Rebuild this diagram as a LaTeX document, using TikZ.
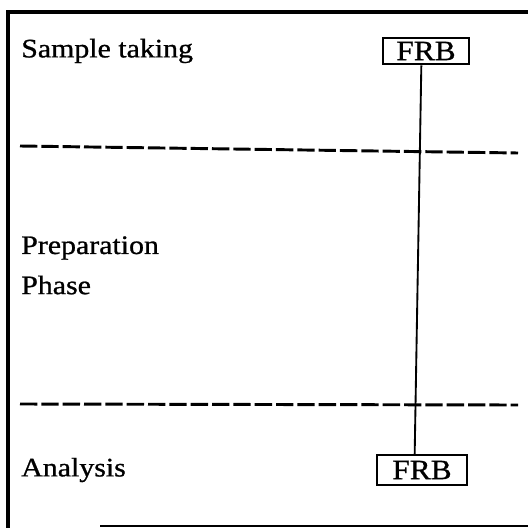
\documentclass[tikz,border=0pt]{standalone}
\usepackage{fontspec}
\setmainfont{Liberation Serif}[FakeStretch=1.12,FakeBold=0.9]
\usetikzlibrary{positioning}

\tikzset{
  phaselabel/.style={anchor=west,inner sep=0.75pt,font=\fontsize{20}{24}\selectfont},
  frbbox/.style={draw,line width=1.7pt,minimum width=64.5pt,minimum height=20pt,inner sep=1pt,font=\fontsize{21}{24}\selectfont},
  divider/.style={line width=2.2pt,dash pattern=on 13pt off 3pt},
}

\begin{document}
\begin{tikzpicture}[x=0.75pt,y=0.75pt,yscale=-1,xscale=1]
		\useasboundingbox (0,0) rectangle (528,528);
		% frame
		\draw [line width=2.8pt] (528,12) -- (8,12) -- (8,528) ;
		\draw [line width=2pt] (100,526) -- (528,526) ;
		% phases
		\node [phaselabel] (sample) at (20,51) {Sample taking};
		\node [phaselabel] (prep) at (20,248) {Preparation};
		\node [phaselabel] (phase) at (20,285) {Phase};
		\node [phaselabel] (anal) at (20,470) {Analysis};
		% dividers
		\coordinate (d1l) at (20,146);
		\coordinate (d1r) at (518,153);
		\coordinate (d2l) at (20,404);
		\coordinate (d2r) at (518,405);
		\draw [divider] (d1l) -- (d1r) ;
		\draw [divider] (d2l) -- (d2r) ;
		% FRB boxes
		\node [frbbox] (frbtop) at (426,51) {FRB};
		\node [frbbox,minimum width=67pt,minimum height=22pt] (frbbot) at (422,470) {FRB};
		\draw [line width=1.4pt] ([xshift=-3.5pt]frbtop.south) -- ([xshift=-5.5pt]frbbot.north) ;
\end{tikzpicture}
\end{document}
